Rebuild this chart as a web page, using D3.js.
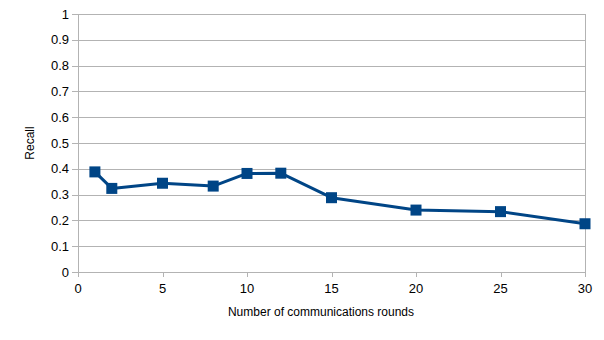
<!DOCTYPE html>
<html>
<head>
<meta charset="utf-8">
<script src="https://cdn.jsdelivr.net/npm/d3@7"></script>
<style>
  html, body { margin: 0; padding: 0; background: #fff; }
  svg text { font-family: 'Liberation Sans', Arial, sans-serif; }
</style>
</head>
<body>
<div id="chart"></div>
<script>
// data
const rounds = [1, 2, 5, 8, 10, 12, 15, 20, 25, 30];
const recall = [0.388, 0.324, 0.344, 0.333, 0.382, 0.383, 0.288, 0.240, 0.234, 0.187];
const xTicks = [0, 5, 10, 15, 20, 25, 30];
const yTicks = [0, 0.1, 0.2, 0.3, 0.4, 0.5, 0.6, 0.7, 0.8, 0.9, 1];

const W = 604, H = 340;
const M = { left: 78, right: 19, top: 14, bottom: 68 };

const COL = { grid: '#b3b3b3', line: '#004586', text: '#000' };

const svg = d3.select('#chart').append('svg')
  .attr('width', W).attr('height', H);

const x = d3.scaleLinear().domain([0, 30]).range([M.left, W - M.right]);
const y = d3.scaleLinear().domain([0, 1]).range([H - M.bottom, M.top]);

// horizontal grid + left ticks
svg.append('g').selectAll('line').data(yTicks).enter().append('line')
  .attr('x1', M.left - 6).attr('x2', W - M.right)
  .attr('y1', d => Math.round(y(d)) + 0.5).attr('y2', d => Math.round(y(d)) + 0.5)
  .attr('stroke', COL.grid).attr('stroke-width', 1);

// vertical axis lines (left and right border)
[0, 30].forEach(v => {
  svg.append('line')
    .attr('x1', Math.round(x(v)) + 0.5).attr('x2', Math.round(x(v)) + 0.5)
    .attr('y1', y(1)).attr('y2', y(0) + 5)
    .attr('stroke', COL.grid);
});

// bottom ticks
svg.append('g').selectAll('line').data(xTicks).enter().append('line')
  .attr('x1', d => Math.round(x(d)) + 0.5).attr('x2', d => Math.round(x(d)) + 0.5)
  .attr('y1', y(0)).attr('y2', y(0) + 5)
  .attr('stroke', COL.grid);

// y tick labels
svg.append('g').selectAll('text').data(yTicks).enter().append('text')
  .attr('x', M.left - 9).attr('y', d => y(d))
  .attr('dy', '0.35em')
  .attr('text-anchor', 'end')
  .attr('font-size', 13)
  .attr('fill', COL.text)
  .text(d => d3.format('~g')(d));

// x tick labels
svg.append('g').selectAll('text').data(xTicks).enter().append('text')
  .attr('x', d => x(d)).attr('y', y(0) + 16)
  .attr('dy', '0.35em')
  .attr('text-anchor', 'middle')
  .attr('font-size', 13)
  .attr('fill', COL.text)
  .text(d => d);

// axis titles
svg.append('text')
  .attr('x', 321).attr('y', 312)
  .attr('dy', '0.35em')
  .attr('text-anchor', 'middle')
  .attr('font-size', 12)
  .text('Number of communications rounds');

svg.append('text')
  .attr('transform', `translate(30,${(y(0) + y(1)) / 2}) rotate(-90)`)
  .attr('dy', '0.35em')
  .attr('text-anchor', 'middle')
  .attr('font-size', 12)
  .text('Recall');

// series
const pts = rounds.map((r, i) => ({ r, v: recall[i] }));
const line = d3.line().x(d => x(d.r)).y(d => y(d.v));

svg.append('path').datum(pts)
  .attr('d', line)
  .attr('fill', 'none')
  .attr('stroke', COL.line)
  .attr('stroke-width', 3)
  .attr('stroke-linejoin', 'round');

const S = 11;
svg.append('g').selectAll('rect').data(pts).enter().append('rect')
  .attr('x', d => x(d.r) - S / 2).attr('y', d => y(d.v) - S / 2)
  .attr('width', S).attr('height', S)
  .attr('fill', COL.line);
</script>
</body>
</html>
